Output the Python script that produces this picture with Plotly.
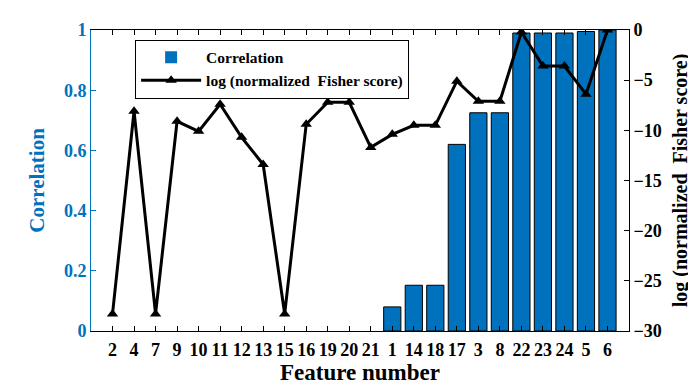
import plotly.graph_objects as go

# Feature order as shown on the x axis
features = ['2', '4', '7', '9', '10', '11', '12', '13', '15', '16', '19', '20',
            '21', '1', '14', '18', '17', '3', '8', '22', '23', '24', '5', '6']

# Correlation (left axis)
correlation = [0, 0, 0, 0, 0, 0, 0, 0, 0, 0, 0, 0,
               0, 0.08, 0.152, 0.152, 0.62, 0.725, 0.725, 0.99, 0.99, 0.99, 0.995, 1.0]

# log (normalized Fisher score) (right axis)
log_fisher = [-28.3, -8.1, -28.3, -9.1, -10.1, -7.4, -10.7, -13.4, -28.3, -9.4, -7.2, -7.2,
              -11.7, -10.4, -9.5, -9.5, -5.1, -7.1, -7.1, -0.2, -3.6, -3.6, -6.4, 0.0]

blue = '#0072BD'
font_family = 'Liberation Serif'

# no outline on empty bars, so nothing sits on the axis line
edge_widths = [1 if c > 0 else 0 for c in correlation]

fig = go.Figure()

fig.add_trace(go.Bar(
    x=features, y=correlation, name='<b>Correlation</b>',
    marker=dict(color=blue, line=dict(color='black', width=edge_widths)),
    width=0.8
))

fig.add_trace(go.Scatter(
    x=features, y=log_fisher, yaxis='y2',
    mode='lines+markers', name='<b>log (normalized  Fisher score)</b>',
    line=dict(color='black', width=3),
    marker=dict(symbol='triangle-up', size=10, color='black')
))

# page body adds an 8px offset, so the figure is 8px smaller than the window
fig.update_layout(
    width=688, height=379,
    margin=dict(l=83, r=67, t=22, b=56),
    plot_bgcolor='white', paper_bgcolor='white',
    font=dict(family=font_family, size=14, color='black'),
    showlegend=True,
    legend=dict(
        x=0.082, y=0.968, xanchor='left', yanchor='top',
        bordercolor='black', borderwidth=1, bgcolor='white',
        font=dict(family=font_family, size=15.5, color='black'),
        tracegroupgap=0, itemwidth=60
    ),
    xaxis=dict(
        type='category', range=[-1, 24], automargin=False,
        tickmode='array', tickvals=features, ticktext=features,
        showline=True, linecolor='black', linewidth=1, mirror='ticks',
        ticks='inside', ticklen=5, tickcolor='black', ticklabelstandoff=2,
        tickfont=dict(family=font_family, size=18, color='black', weight='bold'),
        title=dict(text='<b>Feature number</b>', standoff=4,
                   font=dict(family=font_family, size=23, color='black')),
        showgrid=False, zeroline=False
    ),
    yaxis=dict(
        range=[0, 1], dtick=0.2, automargin=False,
        showline=True, linecolor=blue, linewidth=1,
        ticks='inside', ticklen=5, tickcolor=blue,
        tickfont=dict(family=font_family, size=18, color=blue, weight='bold'),
        title=dict(text='<b>Correlation</b>', standoff=13,
                   font=dict(family=font_family, size=21, color=blue)),
        showgrid=False, zeroline=False
    ),
    yaxis2=dict(
        range=[-30, 0], dtick=5, overlaying='y', side='right', automargin=False,
        showline=True, linecolor='black', linewidth=1,
        ticks='inside', ticklen=5, tickcolor='black',
        tickfont=dict(family=font_family, size=18, color='black', weight='bold'),
        title=dict(text='<b>log (normalized  Fisher score)</b>', standoff=12,
                   font=dict(family=font_family, size=20, color='black')),
        showgrid=False, zeroline=False
    ),
    bargap=0.2
)

fig.write_html("out.html")
